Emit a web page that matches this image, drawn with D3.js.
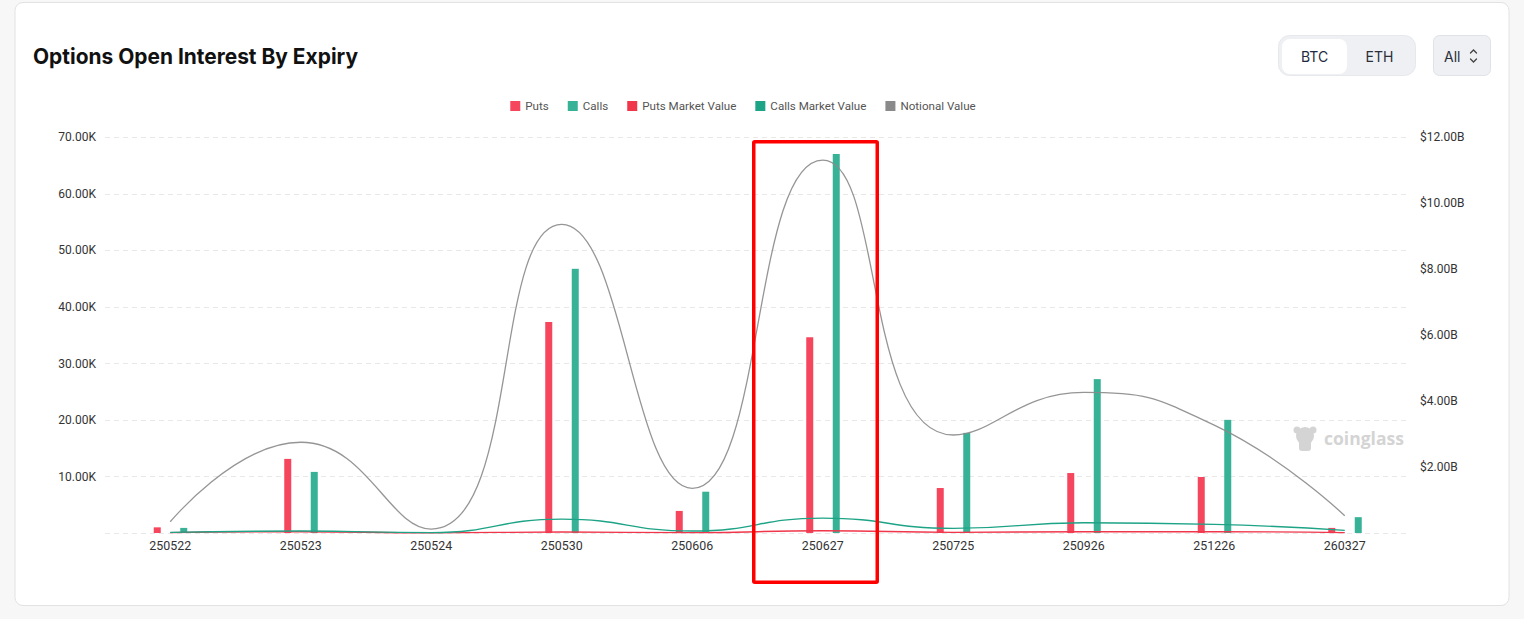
<!DOCTYPE html>
<html><head><meta charset="utf-8">
<script src="https://cdn.jsdelivr.net/npm/d3@7/dist/d3.min.js"></script>
<style>
html,body{margin:0;padding:0;background:#f7f7f7;}
svg{display:block;}
</style></head>
<body>
<svg id="chart" width="1524" height="619"></svg>
<script>
// ---------- data ----------
const categories = ['250522','250523','250524','250530','250606','250627','250725','250926','251226','260327'];
const puts  = [1000, 13100, 0, 37300, 3900, 34600, 7950, 10600, 9900, 900];
const calls = [900, 10800, 0, 46700, 7300, 67000, 17700, 27200, 20000, 2800];
const putsMarketValue  = [0.01e9, 0.04e9, 0.005e9, 0.03e9, 0.01e9, 0.07e9, 0.02e9, 0.04e9, 0.04e9, 0.01e9];
const callsMarketValue = [0.02e9, 0.06e9, 0.01e9, 0.42e9, 0.06e9, 0.45e9, 0.14e9, 0.31e9, 0.26e9, 0.08e9];
const notionalValue    = [0.34e9, 2.75e9, 0.12e9, 9.35e9, 1.35e9, 11.3e9, 2.97e9, 4.26e9, 3.27e9, 0.52e9];
const leftTicks  = [0, 10000, 20000, 30000, 40000, 50000, 60000, 70000];
const rightTicks = [0, 2e9, 4e9, 6e9, 8e9, 10e9, 12e9];
const legendItems = ['Puts','Calls','Puts Market Value','Calls Market Value','Notional Value'];

const colors = {
  'Puts':'#f6465d', 'Calls':'#38b296',
  'Puts Market Value':'#f0364a', 'Calls Market Value':'#1da386',
  'Notional Value':'#8a8a8a'
};

// ---------- ECharts-like smooth curve for d3.line ----------
function echartsSmooth(context){
  return {
    _pts: [],
    areaStart(){}, areaEnd(){},
    lineStart(){ this._pts = []; },
    point(x,y){ this._pts.push([+x,+y]); },
    lineEnd(){
      const p = this._pts, n = p.length, smooth = 0.5;
      if(!n) return;
      let prevX, prevY, cpx0, cpy0, cpx1, cpy1;
      for(let i=0;i<n;i++){
        const x=p[i][0], y=p[i][1];
        if(i===0){ context.moveTo(x,y); cpx0=x; cpy0=y; }
        else {
          let nextCpx0, nextCpy0;
          if(i===n-1){ cpx1=x; cpy1=y; }
          else{
            const nextX=p[i+1][0], nextY=p[i+1][1];
            let vx=nextX-prevX, vy=nextY-prevY;
            const dx0=x-prevX, dy0=y-prevY, dx1=nextX-x, dy1=nextY-y;
            const lenPrev=Math.sqrt(dx0*dx0+dy0*dy0), lenNext=Math.sqrt(dx1*dx1+dy1*dy1);
            const ratio=lenNext/(lenNext+lenPrev);
            nextCpx0 = x + vx*smooth*ratio;
            nextCpy0 = y + vy*smooth*ratio;
            nextCpx0 = Math.min(nextCpx0, Math.max(nextX,x));
            nextCpy0 = Math.min(nextCpy0, Math.max(nextY,y));
            nextCpx0 = Math.max(nextCpx0, Math.min(nextX,x));
            nextCpy0 = Math.max(nextCpy0, Math.min(nextY,y));
            vx = nextCpx0 - x; vy = nextCpy0 - y;
            cpx1 = x - vx*lenPrev/lenNext;
            cpy1 = y - vy*lenPrev/lenNext;
            cpx1 = Math.min(cpx1, Math.max(prevX,x));
            cpy1 = Math.min(cpy1, Math.max(prevY,y));
            cpx1 = Math.max(cpx1, Math.min(prevX,x));
            cpy1 = Math.max(cpy1, Math.min(prevY,y));
            vx = x - cpx1; vy = y - cpy1;
            nextCpx0 = x + vx*lenNext/lenPrev;
            nextCpy0 = y + vy*lenNext/lenPrev;
          }
          context.bezierCurveTo(cpx0,cpy0,cpx1,cpy1,x,y);
          cpx0=nextCpx0; cpy0=nextCpy0;
        }
        prevX=x; prevY=y;
      }
    }
  };
}

const svg = d3.select('#chart');
const FONT = 'Roboto, "DejaVu Sans", sans-serif';

// ---------- card ----------
svg.append('rect').attr('x',15).attr('y',2.5).attr('width',1494).attr('height',603)
  .attr('rx',8).attr('fill','#fff').attr('stroke','#e2e2e2').attr('stroke-width',1);

// title
svg.append('text').attr('x',33).attr('y',64).text('Options Open Interest By Expiry')
  .attr('font-family','Inter, "Liberation Sans", sans-serif').attr('font-weight',700)
  .attr('font-size',21.5).attr('fill','#111').attr('textLength',325).attr('lengthAdjust','spacingAndGlyphs');

// BTC / ETH toggle
svg.append('rect').attr('x',1278.5).attr('y',35.5).attr('width',137).attr('height',40).attr('rx',11)
  .attr('fill','#eef0f3').attr('stroke','#e6e8ec');
svg.append('rect').attr('x',1282).attr('y',39).attr('width',65).attr('height',35).attr('rx',8)
  .attr('fill','#fff');
svg.append('text').attr('x',1314.5).attr('y',61.5).attr('text-anchor','middle').text('BTC')
  .attr('font-family','Inter, sans-serif').attr('font-size',14).attr('fill','#1e2a44');
svg.append('text').attr('x',1379.5).attr('y',61.5).attr('text-anchor','middle').text('ETH')
  .attr('font-family','Inter, sans-serif').attr('font-size',14).attr('fill','#2a2f3a');
// All select
svg.append('rect').attr('x',1433.5).attr('y',35.5).attr('width',57).attr('height',40).attr('rx',6)
  .attr('fill','#eef0f3').attr('stroke','#dfe2e6');
svg.append('text').attr('x',1444).attr('y',61.5).text('All')
  .attr('font-family','Inter, sans-serif').attr('font-size',14).attr('fill','#2a2f3a');
svg.append('path').attr('d','M1470.5,53 L1473.5,50 L1476.5,53 M1470.5,59 L1473.5,62 L1476.5,59')
  .attr('fill','none').attr('stroke','#444').attr('stroke-width',1.3).attr('stroke-linecap','round');

// ---------- scales ----------
const x = d3.scaleBand().domain(categories).range([105,1410]);
const sub = d3.scalePoint().domain(['Puts','Calls']).range([-13,13.5]);
const yL = d3.scaleLinear().domain([0,70000]).range([533,137]);
const yR = d3.scaleLinear().domain([0,12e9]).range([533,137]);
const barW = 7;

// grid
svg.append('g').selectAll('line').data(leftTicks).join('line')
  .attr('x1',105).attr('x2',1410)
  .attr('y1',d=>Math.round(yL(d))+0.5).attr('y2',d=>Math.round(yL(d))+0.5)
  .attr('stroke','#e8e8e8').attr('stroke-dasharray','5,4').attr('stroke-width',1);

// left axis
const axL = svg.append('g').attr('transform','translate(96,0)')
  .call(d3.axisLeft(yL).tickValues(leftTicks.filter(d=>d>0)).tickSize(0).tickPadding(0)
    .tickFormat(d=>(d/1000).toFixed(2)+'K'));
axL.select('.domain').remove();
axL.selectAll('text').attr('font-family',FONT).attr('font-size',12).attr('fill','#333');

// right axis
const axR = svg.append('g').attr('transform','translate(1420,0)')
  .call(d3.axisRight(yR).tickValues(rightTicks.filter(d=>d>0)).tickSize(0).tickPadding(0)
    .tickFormat(d=>'$'+(d/1e9).toFixed(2)+'B'));
axR.select('.domain').remove();
axR.selectAll('text').attr('font-family',FONT).attr('font-size',12).attr('fill','#333');

// bottom axis
const axB = svg.append('g').attr('transform','translate(0,539)')
  .call(d3.axisBottom(x).tickSize(0).tickPadding(0));
axB.select('.domain').remove();
axB.selectAll('text').attr('font-family',FONT).attr('font-size',12.4).attr('fill','#333').attr('dy','0.85em');

// watermark
const wm = svg.append('g').attr('fill','#d4d4d4');
wm.append('circle').attr('cx',1305).attr('cy',436).attr('r',9);
wm.append('circle').attr('cx',1297).attr('cy',430).attr('r',3.5);
wm.append('circle').attr('cx',1313).attr('cy',430).attr('r',3.5);
wm.append('rect').attr('x',1299).attr('y',440).attr('width',12).attr('height',11).attr('rx',3);
wm.append('text').attr('x',1324).attr('y',445).text('coinglass')
  .attr('font-family','"Open Sans", sans-serif').attr('font-weight',700).attr('font-size',17.5);

// bars
const barData = [];
categories.forEach((c,i)=>{
  barData.push({c, key:'Puts', v:puts[i]});
  barData.push({c, key:'Calls', v:calls[i]});
});
svg.append('g').selectAll('rect').data(barData.filter(d=>d.v>0)).join('rect')
  .attr('x',d=>x(d.c)+x.bandwidth()/2+sub(d.key)-barW/2)
  .attr('width',barW)
  .attr('y',d=>yL(d.v))
  .attr('height',d=>yL(0)-yL(d.v))
  .attr('fill',d=>colors[d.key]);

// lines
const line = d3.line().x((d,i)=>x(categories[i])+x.bandwidth()/2).y(d=>yR(d)).curve(echartsSmooth);
[['Puts Market Value',putsMarketValue],['Calls Market Value',callsMarketValue],['Notional Value',notionalValue]]
  .forEach(([k,arr])=>{
    svg.append('path').attr('d',line(arr)).attr('fill','none')
      .attr('stroke',colors[k]).attr('stroke-width',k==='Notional Value'?1.3:1.4)
      .attr('opacity', k==='Notional Value'?0.9:1);
  });

// legend
const lg = svg.append('g');
let cursor = 0;
legendItems.forEach(name=>{
  const g = lg.append('g');
  g.append('rect').attr('x',0).attr('y',-5).attr('width',10).attr('height',10).attr('fill',colors[name]);
  const t = g.append('text').attr('x',15).attr('y',4.2).text(name)
    .attr('font-family',FONT).attr('font-size',11.6).attr('fill','#555');
  const w = 15 + t.node().getComputedTextLength();
  g.attr('transform',`translate(${cursor},0)`);
  cursor += w + 19;
});
const totalW = cursor - 19;
lg.attr('transform',`translate(${743 - totalW/2},106)`);

// annotation box
svg.append('rect').attr('x',753.75).attr('y',141.75).attr('width',123.5).attr('height',440.5)
  .attr('fill','none').attr('stroke','#ff0000').attr('stroke-width',3.5).attr('rx',1);
</script>
</body></html>
